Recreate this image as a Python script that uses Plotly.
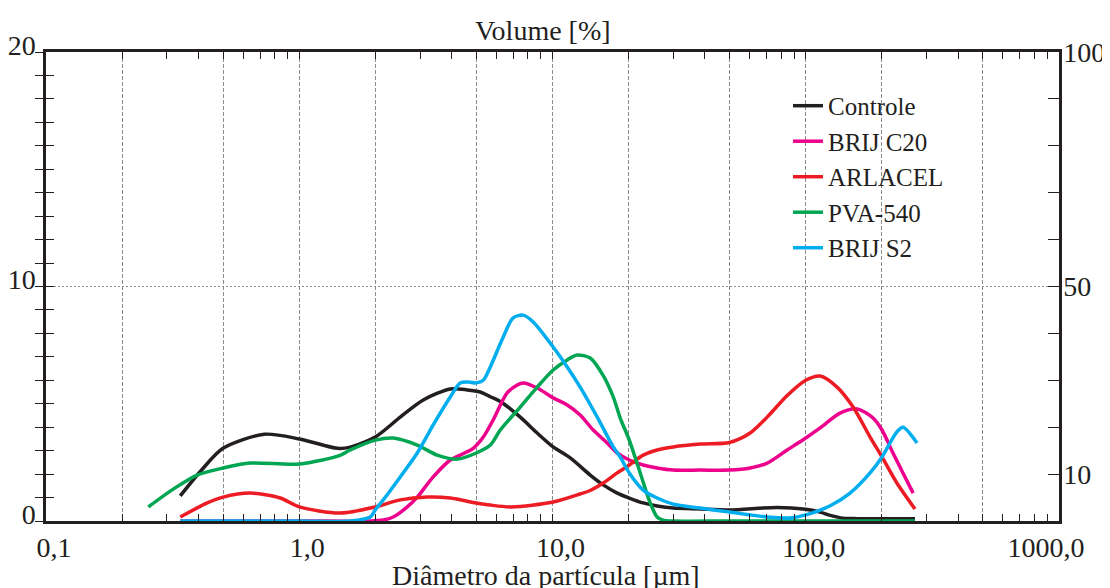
import plotly.graph_objects as go

# ---- data (diameter in µm, volume in %) ----
controle_d = [0.339, 0.406, 0.5, 0.728, 1.0, 1.413, 1.59, 1.995, 2.505, 3.087, 3.948, 4.606, 5.18, 5.68, 6.22, 7.46, 8.70, 10.06, 11.75, 14.09, 15.86, 18.01, 20.1, 22.81, 25.9, 29.96, 38.3, 50, 77.1, 100, 114, 125, 140.5, 160, 270]
controle_v = [1.07, 2.1, 3.1, 3.7, 3.5, 3.1, 3.15, 3.58, 4.43, 5.16, 5.63, 5.59, 5.5, 5.3, 5.1, 4.43, 3.75, 3.16, 2.69, 1.96, 1.54, 1.19, 0.98, 0.77, 0.64, 0.55, 0.51, 0.47, 0.58, 0.5, 0.38, 0.24, 0.12, 0.1, 0.1]

brijc20_d = [0.339, 1.0, 1.9, 2.146, 2.35, 2.67, 2.924, 3.381, 3.948, 4.5, 4.864, 5.33, 5.83, 6.62, 7.26, 7.66, 8.70, 10.06, 11.43, 12.86, 14.48, 16.44, 18.01, 20.1, 22.81, 25.9, 29.96, 38.3, 50, 60.3, 70.4, 84.5, 100, 114, 136.6, 159.6, 184.3, 200, 221, 242, 265.5]
brijc20_v = [0.0, 0.0, 0.0, 0.04, 0.17, 0.6, 1.02, 1.88, 2.6, 2.9, 3.1, 3.58, 4.31, 5.46, 5.8, 5.88, 5.67, 5.25, 4.95, 4.52, 3.88, 3.33, 2.9, 2.6, 2.39, 2.26, 2.17, 2.17, 2.17, 2.26, 2.47, 3.03, 3.54, 3.97, 4.6, 4.78, 4.39, 3.88, 2.9, 2.05, 1.19]

arlacel_d = [0.339, 0.433, 0.5, 0.641, 0.841, 1.0, 1.45, 1.995, 2.505, 3.2, 3.948, 5.0, 5.68, 6.9, 10.06, 12.86, 14.09, 15.86, 18.01, 20.1, 22.81, 25.9, 29.96, 38.3, 50, 60.3, 70.4, 84.5, 100, 114, 132.9, 153.8, 179.5, 200, 229, 270]
arlacel_v = [0.17, 0.77, 1.02, 1.19, 0.98, 0.6, 0.34, 0.6, 0.9, 1.02, 0.98, 0.77, 0.68, 0.6, 0.81, 1.15, 1.3, 1.62, 2.05, 2.39, 2.81, 3.03, 3.16, 3.28, 3.35, 3.75, 4.43, 5.35, 6.0, 6.18, 5.71, 4.86, 3.58, 2.73, 1.62, 0.51]

pva_d = [0.2535, 0.318, 0.395, 0.5, 0.641, 1.0, 1.45, 1.59, 2.0, 2.35, 2.924, 3.506, 4.205, 5.0, 5.68, 6.22, 7.46, 8.70, 10.06, 11.43, 12.52, 14.09, 15.86, 17.37, 18.51, 20.1, 22.2, 24.31, 25.9, 27.36, 30, 50, 100, 270]
pva_v = [0.6, 1.36, 1.96, 2.26, 2.47, 2.43, 2.8, 3.03, 3.45, 3.54, 3.24, 2.81, 2.64, 2.9, 3.24, 3.88, 4.86, 5.71, 6.44, 6.87, 7.08, 6.95, 6.2, 5.29, 4.39, 3.45, 2.05, 0.77, 0.17, 0.04, 0.0, 0.0, 0.0, 0.0]

brijs2_d = [0.339, 1.0, 1.59, 1.907, 1.995, 2.146, 2.505, 2.924, 3.381, 3.948, 4.32, 4.65, 5.0, 5.33, 5.68, 6.39, 6.99, 7.66, 8.39, 10.06, 11.43, 12.86, 15.02, 17.37, 18.51, 20.1, 22.81, 25.9, 29.96, 38.3, 50, 70.4, 86.8, 100, 124.9, 149.6, 179.5, 200, 229, 242, 275]
brijs2_v = [0.0, 0.0, 0.0, 0.17, 0.47, 0.9, 1.88, 2.9, 4.1, 5.29, 5.89, 5.93, 5.89, 6.0, 6.57, 7.85, 8.66, 8.78, 8.49, 7.42, 6.57, 5.71, 4.43, 3.16, 2.73, 2.05, 1.32, 0.98, 0.72, 0.55, 0.38, 0.17, 0.13, 0.26, 0.65, 1.19, 2.05, 2.73, 3.8, 4.0, 3.33]

series_names = ["Controle", "BRIJ C20", "ARLACEL", "PVA-540", "BRIJ S2"]
series_colors = ["#231f20", "#ec008c", "#ed1c24", "#00a651", "#00aeef"]
series_data = [(controle_d, controle_v), (brijc20_d, brijc20_v), (arlacel_d, arlacel_v),
               (pva_d, pva_v), (brijs2_d, brijs2_v)]

NB = "\u00a0"
x_major = [0.1, 0.2, 0.5, 1, 2, 5, 10, 20, 50, 100, 200, 500, 1000]
x_major_text = ["0,1", "", "", "1,0", "", "", "10,0", "", "", "100,0", "", "", "1000,0" + NB * 6]
x_minor = [m * 10 ** e for e in range(-1, 3) for m in (3, 4, 6, 7, 8, 9)]

left_labels = {0: "0", 10: "10", 20: "20"}
right_labels = {10: "10", 50: "50", 100: "100"}

FONT = "Liberation Serif, Times New Roman, serif"
FS = 28
INK = "#231f20"

fig = go.Figure()
for name, color, (d, v) in zip(series_names, series_colors, series_data):
    fig.add_trace(go.Scatter(x=d, y=v, name=name, mode="lines",
                             line=dict(color=color, width=3.5, shape="spline", smoothing=0.8)))

# invisible helpers so the extra axes are drawn
fig.add_trace(go.Scatter(x=[1], y=[0], yaxis="y2", mode="markers", marker=dict(opacity=0),
                         showlegend=False, hoverinfo="skip"))
fig.add_trace(go.Scatter(x=[1], y=[0], yaxis="y3", mode="markers", marker=dict(opacity=0),
                         showlegend=False, hoverinfo="skip"))

# white box behind the legend (hides the grid there)
fig.add_shape(type="rect", xref="paper", yref="paper", x0=0.715, x1=0.99, y0=0.518, y1=0.94,
              fillcolor="white", line=dict(width=0), layer="between")

fig.update_layout(
    width=1102, height=580,
    margin=dict(l=38, r=51, t=44, b=67, autoexpand=False),
    paper_bgcolor="white", plot_bgcolor="white",
    font=dict(family=FONT, size=FS, color=INK),
    showlegend=True,
    legend=dict(x=0.7325, y=0.934, xanchor="left", yanchor="top", bgcolor="rgba(0,0,0,0)",
                font=dict(family=FONT, size=25, color=INK), tracegroupgap=0, itemwidth=30),
    xaxis=dict(type="log", range=[-1, 3], tickmode="array", tickvals=x_major, ticktext=x_major_text,
               ticks="inside", ticklen=7, tickwidth=1.2, tickcolor=INK,
               showgrid=True, gridcolor="#8c8c8c", griddash="4px,2px", gridwidth=1,
               showline=True, linecolor=INK, linewidth=2.5, mirror="allticks",
               minor=dict(tickmode="array", tickvals=x_minor, ticks="inside", ticklen=7,
                          tickwidth=1.2, tickcolor=INK, showgrid=False),
               ticklabelshift=8, ticklabeloverflow="allow", zeroline=False),
    yaxis=dict(range=[0, 20], tickmode="array", tickvals=list(left_labels.keys()),
               ticktext=list(left_labels.values()), ticks="outside", ticklen=8, tickwidth=1.2,
               tickcolor=INK, showgrid=True, gridcolor="#8c8c8c", griddash="2px,2px", gridwidth=1,
               showline=True, linecolor=INK, linewidth=2.5, zeroline=False,
               minor=dict(tickmode="array", tickvals=[i for i in range(21) if i % 10], ticks="outside",
                          ticklen=8, tickwidth=1.2, tickcolor=INK, showgrid=False),
               ticklabelshift=-7, ticklabelstandoff=-6, ticklabeloverflow="allow"),
    yaxis3=dict(range=[0, 20], overlaying="y", side="left", tickmode="array",
                tickvals=list(range(21)), ticks="inside", ticklen=8, tickwidth=1.2,
                tickcolor=INK, showticklabels=False, showgrid=False, showline=False,
                zeroline=False),
    yaxis2=dict(range=[0, 100], overlaying="y", side="right", tickmode="array",
                tickvals=list(range(0, 101, 10)),
                ticktext=[right_labels.get(i, "") for i in range(0, 101, 10)],
                ticks="inside", ticklen=11, tickwidth=1.2, tickcolor=INK, ticklabelstandoff=-4,
                ticklabeloverflow="allow",
                showgrid=False, showline=True, linecolor=INK, linewidth=2.5, zeroline=False),
    annotations=[
        dict(text="Volume [%]", xref="paper", yref="paper", x=0.4906, y=1, xanchor="center",
             yanchor="middle", yshift=22, showarrow=False, font=dict(family=FONT, size=FS, color=INK)),
        dict(text="Diâmetro da partícula [µm]", xref="paper", yref="paper", x=0.4936, y=0,
             xanchor="center", yanchor="middle", yshift=-54, showarrow=False,
             font=dict(family=FONT, size=FS, color=INK)),
    ],
)

fig.write_html("out.html")
